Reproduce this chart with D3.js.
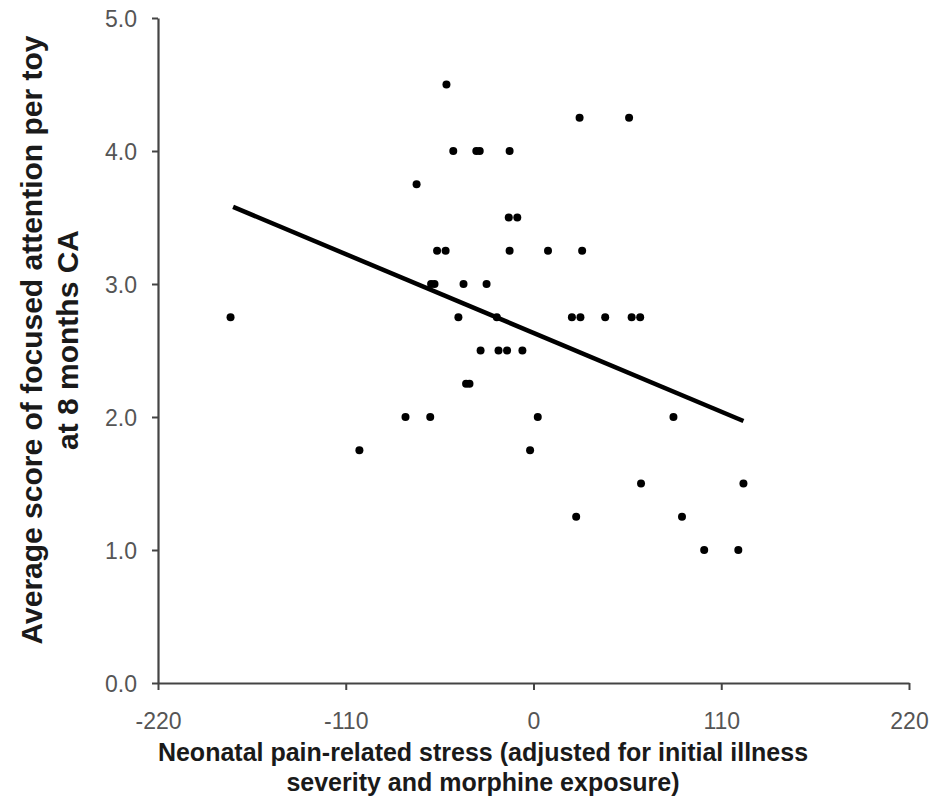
<!DOCTYPE html>
<html>
<head>
<meta charset="utf-8">
<script src="https://cdn.jsdelivr.net/npm/d3@7"></script>
<style>
  body { margin: 0; background: #fff; }
  .tick text { font-family: "Liberation Sans Narrow", "Arial Narrow", "Liberation Sans", sans-serif; fill: #555; }
  .title { font-family: "Liberation Sans", Arial, sans-serif; font-weight: bold; fill: #1a1a1a; }
</style>
</head>
<body>
<svg width="934" height="800"></svg>
<script>
// scatter points
let stressX = [-51, -47, -33.5, -31.5, -14, -68.5, -14.5, -9.5, -56.5, -51.5, -14,
  -60, -58, -41, -27.5, -177.5, -44, -21.5, -31, -20.5, -15.5, -6.5,
  27, 56, 8.5, 28.5, 22.5, 27.5, 42, 57.5, 62.5,
  -39.5, -37.5, -75, -60.5, 2.5, -102, -2, 82, 63, 123, 25, 87, 100, 120];
let attentionY = [4.5, 4.0, 4.0, 4.0, 4.0, 3.75, 3.5, 3.5, 3.25, 3.25, 3.25,
  3.0, 3.0, 3.0, 3.0, 2.75, 2.75, 2.75, 2.5, 2.5, 2.5, 2.5,
  4.25, 4.25, 3.25, 3.25, 2.75, 2.75, 2.75, 2.75, 2.75,
  2.25, 2.25, 2.0, 2.0, 2.0, 1.75, 1.75, 2.0, 1.5, 1.5, 1.25, 1.25, 1.0, 1.0];

// fitted line end points
let fitX = [-176, 123];
let fitY = [3.58, 1.97];

let xTicks = [-220, -110, 0, 110, 220];
let yTicks = [0, 1, 2, 3, 4, 5];

let svg = d3.select("svg");

let x = d3.scaleLinear().domain([-220, 220]).range([158, 909]);
let y = d3.scaleLinear().domain([0, 5]).range([683, 18]);

let xAxis = d3.axisBottom(x).tickValues(xTicks).tickFormat(function(d) { return String(d); })
  .tickSize(7).tickSizeOuter(0).tickPadding(22);
let yAxis = d3.axisLeft(y).tickValues(yTicks).tickFormat(d3.format(".1f"))
  .tickSize(6).tickSizeOuter(0).tickPadding(15);

let xg = svg.append("g").attr("transform", "translate(0," + y(0) + ")").call(xAxis);
let yg = svg.append("g").attr("transform", "translate(" + x(-220) + ",0)").call(yAxis);

[xg, yg].forEach(function(g) {
  g.select(".domain").attr("stroke", "#444").attr("stroke-width", 2.2);
  g.selectAll(".tick line").attr("stroke", "#444").attr("stroke-width", 2);
  g.selectAll(".tick text").style("font-size", "23px");
});
xg.selectAll(".tick text").attr("dy", "0.75em");
yg.selectAll(".tick text").attr("dy", "0.35em");

// regression line
let line = d3.line().x(function(d, i) { return x(fitX[i]); }).y(function(d, i) { return y(fitY[i]); });
svg.append("path")
  .datum(fitX)
  .attr("d", line)
  .attr("fill", "none")
  .attr("stroke", "#000")
  .attr("stroke-width", 4.5);

svg.append("g").selectAll("circle")
  .data(stressX)
  .enter().append("circle")
  .attr("cx", function(d) { return x(d); })
  .attr("cy", function(d, i) { return y(attentionY[i]); })
  .attr("r", 4)
  .attr("fill", "#000");

// axis titles
let xt = svg.append("text").attr("class", "title")
  .attr("text-anchor", "middle")
  .style("font-size", "25px");
xt.append("tspan").attr("x", 483).attr("y", 761).text("Neonatal pain-related stress (adjusted for initial illness");
xt.append("tspan").attr("x", 483).attr("y", 791).text("severity and morphine exposure)");

let yt = svg.append("text").attr("class", "title")
  .attr("text-anchor", "middle")
  .attr("transform", "translate(0,340) rotate(-90)")
  .style("font-size", "30px");
yt.append("tspan").attr("x", 0).attr("y", 42).text("Average score of focused attention per toy");
yt.append("tspan").attr("x", 0).attr("y", 78).text("at 8 months CA");
</script>
</body>
</html>
